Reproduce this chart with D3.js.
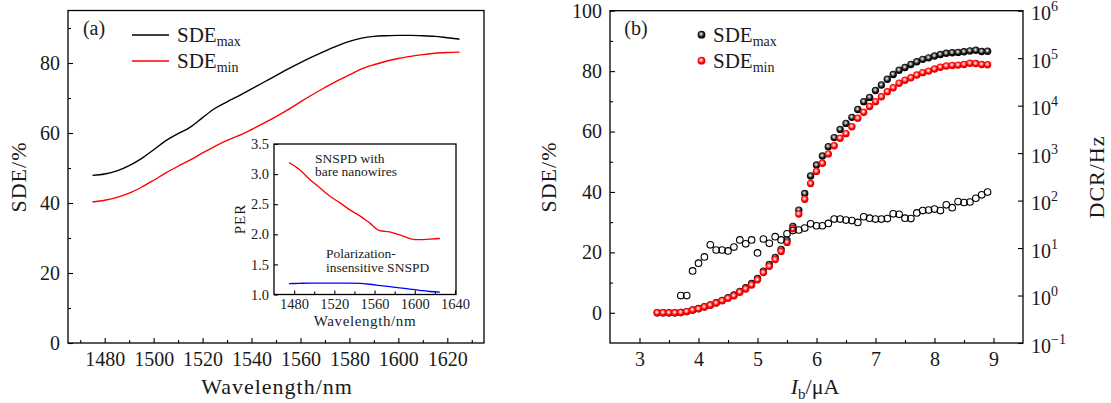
<!DOCTYPE html>
<html lang="en">
<head>
<meta charset="UTF-8">
<title>SDE chart</title>
<script src="https://d3js.org/d3.v7.min.js"></script>
<style>
body { margin: 0; background: #fff; }
</style>
</head>
<body>
<div id="chart"></div>
<script>
// ---- panel (a): SDE versus wavelength ----
var wavelengths = [1475,1480,1485,1490,1495,1500,1505,1510,1515,1520,1525,1530,1535,1540,1545,1550,
  1555,1560,1565,1570,1575,1580,1585,1590,1595,1600,1605,1610,1615,1620,1625];
var sdeMaxA = [47.9,48.3,49.2,50.7,52.7,55.2,57.8,59.8,61.7,64.4,67.0,68.9,70.7,72.6,74.5,76.4,
  78.3,80.1,81.8,83.4,84.9,86.2,87.1,87.6,87.8,87.9,87.9,87.8,87.6,87.2,86.8];
var sdeMinA = [40.3,40.8,41.6,42.8,44.5,46.5,48.6,50.5,52.3,54.3,56.2,57.9,59.3,61.0,62.8,64.7,
  66.7,68.9,71.0,73.0,74.9,76.6,78.3,79.5,80.5,81.3,81.9,82.4,82.8,83.0,83.1];
var xTicksA = [1480,1500,1520,1540,1560,1580,1600,1620];
var yTicksA = [0,20,40,60,80];

// inset: PER versus wavelength
var perWavelengths = [1475,1485,1495,1505,1515,1525,1535,1545,1555,1565,1575,1585,1595,1605,1615,1625];
var perBare = [3.19,3.08,2.92,2.78,2.64,2.53,2.41,2.31,2.19,2.06,2.04,1.99,1.93,1.91,1.92,1.93];
var perInsensitive = [1.18,1.185,1.19,1.19,1.19,1.19,1.19,1.185,1.17,1.15,1.13,1.11,1.09,1.07,1.05,1.04];
var xTicksInset = [1480,1520,1560,1600,1640];
var yTicksInset = [1.0,1.5,2.0,2.5,3.0,3.5];

// ---- panel (b): SDE and DCR versus bias current ----
var biasCurrents = [3.3,3.4,3.5,3.6,3.7,3.8,3.9,4.0,4.1,4.2,4.3,4.4,4.5,4.6,4.7,4.8,4.9,5.0,5.1,5.2,
  5.3,5.4,5.5,5.6,5.7,5.8,5.9,6.0,6.1,6.2,6.3,6.4,6.5,6.6,6.7,6.8,6.9,7.0,7.1,7.2,
  7.3,7.4,7.5,7.6,7.7,7.8,7.9,8.0,8.1,8.2,8.3,8.4,8.5,8.6,8.7,8.8,8.9];
var sdeMaxB = [0,0,0,0,0.1,0.4,0.9,1.4,2.0,2.6,
  3.3,4.1,5.0,5.9,7.1,8.3,9.7,11.4,13.8,16.0,
  18.3,21.0,24.0,28.6,34.0,39.5,45.3,48.9,51.9,55.0,
  58.0,60.7,62.7,64.7,67.3,69.9,71.3,73.6,75.4,77.3,
  78.9,80.3,81.2,82.2,83.1,83.9,84.4,85.0,85.5,85.9,
  86.1,86.2,86.4,86.7,86.9,86.5,86.6];
var sdeMinB = [0,0,0,0,0.1,0.4,0.9,1.3,1.9,2.5,
  3.2,4.0,4.8,5.6,6.8,7.9,9.2,10.9,13.3,15.4,
  17.6,20.3,23.3,27.8,32.7,37.6,42.8,46.8,49.5,52.6,
  55.3,57.8,59.3,61.6,64.4,66.4,68.3,69.9,71.5,73.2,
  74.5,76.0,77.0,77.8,78.7,79.5,80.0,80.7,81.3,81.7,
  81.9,82.0,82.2,82.6,82.5,82.2,82.1];
var dcrCurrents = [3.7,3.8,3.9,4.0,4.1,4.2,4.3,4.4,4.5,4.6,4.7,4.8,4.9,5.0,5.1,5.2,5.3,5.4,5.5,5.6,
  5.7,5.8,5.9,6.0,6.1,6.2,6.3,6.4,6.5,6.6,6.7,6.8,6.9,7.0,7.1,7.2,7.3,7.4,7.5,7.6,
  7.7,7.8,7.9,8.0,8.1,8.2,8.3,8.4,8.5,8.6,8.7,8.8,8.9];
var dcrValues = [1.0,1.0,3.3,4.8,6.5,11.7,9.1,9.1,8.7,10.5,
  14.8,12.3,14.8,7.9,15.5,12.6,17.4,14.8,20.0,23.4,
  24.0,26.3,32.4,29.5,29.5,33.1,40.7,40.7,38.9,38.0,
  34.7,45.7,42.7,40.7,40.7,41.7,52.5,51.3,42.7,41.7,
  55.0,61.7,63.1,66.1,61.7,81.3,70.8,95.5,91.2,93.3,
  112,132,151];
var xTicksB = [3,4,5,6,7,8,9];
var yTicksB = [0,20,40,60,80,100];
var logTicksB = [1e-1,1e0,1e1,1e2,1e3,1e4,1e5,1e6];
var logExponents = ["\u22121","0","1","2","3","4","5","6"];

var FONT = "'Liberation Serif', 'Times New Roman', serif";
var INK = "#1a1a1a";

var svg = d3.select("#chart").append("svg")
    .attr("width", 1111)
    .attr("height", 403)
    .style("display", "block");

// sphere gradients for the filled markers
var defs = svg.append("defs");
function sphereGradient(id, dark, mid, light) {
  var g = defs.append("radialGradient").attr("id", id)
      .attr("cx", "0.45").attr("cy", "0.42").attr("r", "0.6");
  g.append("stop").attr("offset", "0").attr("stop-color", "#fff");
  g.append("stop").attr("offset", "0.25").attr("stop-color", light);
  g.append("stop").attr("offset", "0.6").attr("stop-color", mid);
  g.append("stop").attr("offset", "1").attr("stop-color", dark);
}
sphereGradient("ballBlack", "#000", "#111", "#9a9a9a");
sphereGradient("ballRed", "#d40000", "#ff0000", "#ff9c9c");

// draws an axis with inward ticks, plus unlabeled minor ticks
function drawAxis(axisFn, scale, pos, major, minor, fmt, size, pad, fontSize) {
  var g = svg.append("g").attr("transform", pos);
  g.call(axisFn(scale).tickValues(major).tickFormat(fmt).tickSize(-size).tickPadding(pad));
  if (minor) {
    g.append("g").call(axisFn(scale).tickValues(minor).tickFormat("").tickSize(-3))
      .select(".domain").remove();
  }
  g.selectAll(".domain").remove();
  g.selectAll("line").attr("stroke", "#000").attr("stroke-width", 1.1);
  g.selectAll("text").attr("font-family", FONT).attr("font-size", fontSize).attr("fill", INK);
  return g;
}

function frame(x0, y0, x1, y1) {
  svg.append("rect").attr("x", x0).attr("y", y0)
     .attr("width", x1 - x0).attr("height", y1 - y0)
     .attr("fill", "none").attr("stroke", "#000").attr("stroke-width", 1.3);
}

function label(x, y, txt, size, rotate) {
  var t = svg.append("text")
     .attr("font-family", FONT).attr("font-size", size).attr("fill", INK)
     .attr("text-anchor", "middle");
  if (rotate) t.attr("transform", "translate(" + x + "," + y + ") rotate(-90)");
  else t.attr("x", x).attr("y", y);
  t.text(txt);
  return t;
}

// ================= panel (a) =================
var xA = d3.scaleLinear().domain([1465, 1635]).range([68, 484]);
var yA = d3.scaleLinear().domain([0, 95]).range([343, 10.5]);

drawAxis(d3.axisBottom, xA, "translate(0,343)", xTicksA,
  [1470,1490,1510,1530,1550,1570,1590,1610,1630], d3.format("d"), 5, 9, 20);
drawAxis(d3.axisLeft, yA, "translate(68,0)", yTicksA,
  [10,30,50,70,90], d3.format("d"), 5, 8, 20);
frame(68, 10.5, 484, 343);

var lineA = function (vals) {
  return d3.line().x(function (d, i) { return xA(wavelengths[i]); })
    .y(function (d) { return yA(d); }).curve(d3.curveMonotoneX)(vals);
};
svg.append("path").attr("d", lineA(sdeMaxA)).attr("fill", "none").attr("stroke", "#000").attr("stroke-width", 1.4);
svg.append("path").attr("d", lineA(sdeMinA)).attr("fill", "none").attr("stroke", "#ff0000").attr("stroke-width", 1.4);

label(94, 35, "(a)", 20);
label(277, 394, "Wavelength/nm", 22).attr("letter-spacing", 1);
label(26, 177, "SDE/%", 22, true).attr("letter-spacing", 1);

// legend (a)
[["#000", 35, "max"], ["#ff0000", 61, "min"]].forEach(function (l) {
  svg.append("line").attr("x1", 132).attr("x2", 169).attr("y1", l[1]).attr("y2", l[1])
     .attr("stroke", l[0]).attr("stroke-width", 1.4);
  var t = svg.append("text").attr("x", 177).attr("y", l[1] + 7)
     .attr("font-family", FONT).attr("font-size", 21).attr("fill", INK).text("SDE");
  t.append("tspan").attr("dy", 4).attr("font-size", 14).text(l[2]);
});

// ---- inset ----
var xI = d3.scaleLinear().domain([1460, 1641]).range([274, 456]);
var yI = d3.scaleLinear().domain([1, 3.5]).range([294.5, 144]);
svg.append("rect").attr("x", 274).attr("y", 144).attr("width", 182).attr("height", 150.5).attr("fill", "#fff");
drawAxis(d3.axisBottom, xI, "translate(0,294.5)", xTicksInset,
  [1500,1540,1580,1620], d3.format("d"), 4, 4, 14.5);
drawAxis(d3.axisLeft, yI, "translate(274,0)", yTicksInset,
  null, d3.format(".1f"), 4, 5, 14.5);
frame(274, 144, 456, 294.5);

var lineI = function (vals) {
  return d3.line().x(function (d, i) { return xI(perWavelengths[i]); })
    .y(function (d) { return yI(d); }).curve(d3.curveMonotoneX)(vals);
};
svg.append("path").attr("d", lineI(perBare)).attr("fill", "none").attr("stroke", "#ff0000").attr("stroke-width", 1.3);
svg.append("path").attr("d", lineI(perInsensitive)).attr("fill", "none").attr("stroke", "#0000ff").attr("stroke-width", 1.3);

label(365, 326, "Wavelength/nm", 15).attr("letter-spacing", 0.6);
label(245, 219, "PER", 15, true).attr("letter-spacing", 1);
[["SNSPD with", 315, 163], ["bare nanowires", 315, 176],
 ["Polarization-", 326, 258], ["insensitive SNSPD", 326, 271.5]].forEach(function (a) {
  svg.append("text").attr("x", a[1]).attr("y", a[2]).attr("font-family", FONT)
     .attr("font-size", 13.5).attr("fill", INK).text(a[0]);
});

// ================= panel (b) =================
var xB = d3.scaleLinear().domain([2.5, 9.5]).range([610, 1023]);
var yB = d3.scaleLinear().domain([-10, 100]).range([343, 10.7]);
var yR = d3.scaleLog().domain([0.1, 1e6]).range([343, 10.7]);

drawAxis(d3.axisBottom, xB, "translate(0,343)", xTicksB,
  [3.5,4.5,5.5,6.5,7.5,8.5], d3.format("d"), 5, 9, 20);
drawAxis(d3.axisLeft, yB, "translate(610,0)", yTicksB,
  [10,30,50,70,90], d3.format("d"), 5, 8, 20);
drawAxis(d3.axisRight, yR, "translate(1023,0)", logTicksB,
  null, function () { return ""; }, 5, 8, 20);
logTicksB.forEach(function (v, i) {
  var t = svg.append("text").attr("x", 1031).attr("y", yR(v) + 9.5)
     .attr("font-family", FONT).attr("font-size", 20).attr("fill", INK).text("10");
  t.append("tspan").attr("dy", -9).attr("font-size", 14).text(logExponents[i]);
});
frame(610, 10.7, 1023, 343);

svg.append("g").selectAll("circle").data(sdeMaxB).join("circle")
  .attr("cx", function (d, i) { return xB(biasCurrents[i]); })
  .attr("cy", function (d) { return yB(d); })
  .attr("r", 3.7).attr("fill", "url(#ballBlack)");
svg.append("g").selectAll("circle").data(sdeMinB).join("circle")
  .attr("cx", function (d, i) { return xB(biasCurrents[i]); })
  .attr("cy", function (d) { return yB(d); })
  .attr("r", 3.7).attr("fill", "url(#ballRed)");
svg.append("g").selectAll("circle").data(dcrValues).join("circle")
  .attr("cx", function (d, i) { return xB(dcrCurrents[i]); })
  .attr("cy", function (d) { return yR(d); })
  .attr("r", 3.3).attr("fill", "none").attr("stroke", "#000").attr("stroke-width", 1.1);

label(636, 35, "(b)", 20);
label(556, 177, "SDE/%", 22, true).attr("letter-spacing", 1);
label(1104, 177, "DCR/Hz", 22, true).attr("letter-spacing", 1);
var xl = svg.append("text").attr("x", 815).attr("y", 394).attr("text-anchor", "middle")
  .attr("font-family", FONT).attr("font-size", 22).attr("fill", INK);
xl.append("tspan").attr("font-style", "italic").text("I");
xl.append("tspan").attr("dy", 5).attr("font-size", 15).text("b");
xl.append("tspan").attr("dy", -5).text("/\u03bcA");

// legend (b)
[["url(#ballBlack)", 34.7, "max"], ["url(#ballRed)", 60.7, "min"]].forEach(function (l) {
  svg.append("circle").attr("cx", 701.5).attr("cy", l[1]).attr("r", 3.9).attr("fill", l[0]);
  var t = svg.append("text").attr("x", 713).attr("y", l[1] + 7)
     .attr("font-family", FONT).attr("font-size", 21).attr("fill", INK).text("SDE");
  t.append("tspan").attr("dy", 4).attr("font-size", 14).text(l[2]);
});
</script>
</body>
</html>
